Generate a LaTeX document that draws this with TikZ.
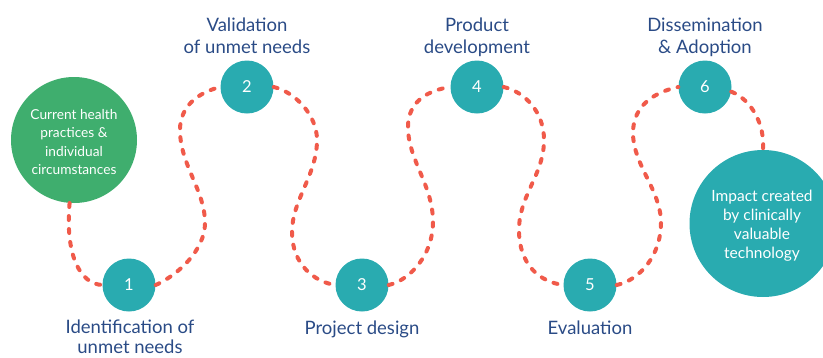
\documentclass[tikz,border=0pt]{standalone}
\usepackage{fontspec}
\setmainfont{Lato}
\definecolor{teal1}{HTML}{29ABB0}
\definecolor{green1}{HTML}{3FAE6E}
\definecolor{red1}{HTML}{F05A4A}
\definecolor{blue1}{HTML}{2A4B86}
\tikzset{
  stepcirc/.style={circle, fill=teal1, minimum size=53pt, inner sep=0pt, text=white, font=\fontsize{16.5}{16.5}\selectfont\addfontfeatures{Weight=Light}},
  steplabel/.style={anchor=base, align=center, text=blue1, font=\fontsize{18.5}{22}\selectfont},
  pathline/.style={draw=red1, line width=4pt, line cap=round, dash pattern=on 4pt off 9pt},
}
\begin{document}
\begin{tikzpicture}[x=1pt, y=-1pt]
\useasboundingbox (0,0) rectangle (823,357);
% big circles
\node[circle, fill=green1, minimum size=126pt, inner sep=0pt] (g) at (74,140) {};
\node[anchor=base, align=center, text=white, font=\fontsize{13.7}{18.5}\selectfont] (gt) at (74,174.5) {Current health\\practices \&\\individual\\circumstances};
\node[circle, fill=teal1, minimum size=147pt, inner sep=0pt] (big) at (763,223.5) {};
\node[anchor=base, align=center, text=white, font=\fontsize{15.5}{19}\selectfont] (bt) at (762,258.7) {Impact created\\by clinically\\valuable\\technology};
% step circles
\node[stepcirc] (c1) at (129,285) {1};
\node[stepcirc] (c2) at (247,87) {2};
\node[stepcirc] (c3) at (362,285) {3};
\node[stepcirc] (c4) at (477,87) {4};
\node[stepcirc] (c5) at (590,285) {5};
\node[stepcirc] (c6) at (705,87) {6};
% labels (base = last line)
\node[steplabel, font=\fontsize{18.5}{20.5}\selectfont] (l1) at (130,353.5) {Identification of\\unmet needs};
\node[steplabel] (l2) at (247,53) {Validation\\of unmet needs};
\node[steplabel] (l3) at (362,334) {Project design};
\node[steplabel] (l4) at (477,53) {Product\\development};
\node[steplabel] (l5) at (590,334) {Evaluation};
\node[steplabel] (l6) at (705,53) {Dissemination\\\& Adoption};
% dashed path
\draw[pathline] (g.-94) .. controls (65,255) and (80,284) .. (c1.west);
\draw[pathline] (c1.east) .. controls (178,275) and (205,250) .. (205,223)
  .. controls (205,190) and (180,165) .. (180,130)
  .. controls (180,105) and (200,92) .. (c2.west);
\draw[pathline] (c2.east) .. controls (295,92) and (317,115) .. (317,140)
  .. controls (317,175) and (292,200) .. (292,232)
  .. controls (292,265) and (315,282) .. (c3.west);
\draw[pathline] (c3.east) .. controls (410,280) and (433,255) .. (433,222)
  .. controls (433,185) and (408,160) .. (408,127)
  .. controls (408,100) and (430,90) .. (c4.west);
\draw[pathline] (c4.east) .. controls (525,92) and (544,112) .. (544,140)
  .. controls (544,175) and (519,195) .. (519,230)
  .. controls (519,265) and (540,282) .. (c5.west);
\draw[pathline] (c5.east) .. controls (640,280) and (661,255) .. (661,223)
  .. controls (661,190) and (633,165) .. (633,133)
  .. controls (633,105) and (655,92) .. (c6.west);
\draw[pathline] (c6.-10) .. controls (752,100) and (765,125) .. (big.north);
\end{tikzpicture}
\end{document}
